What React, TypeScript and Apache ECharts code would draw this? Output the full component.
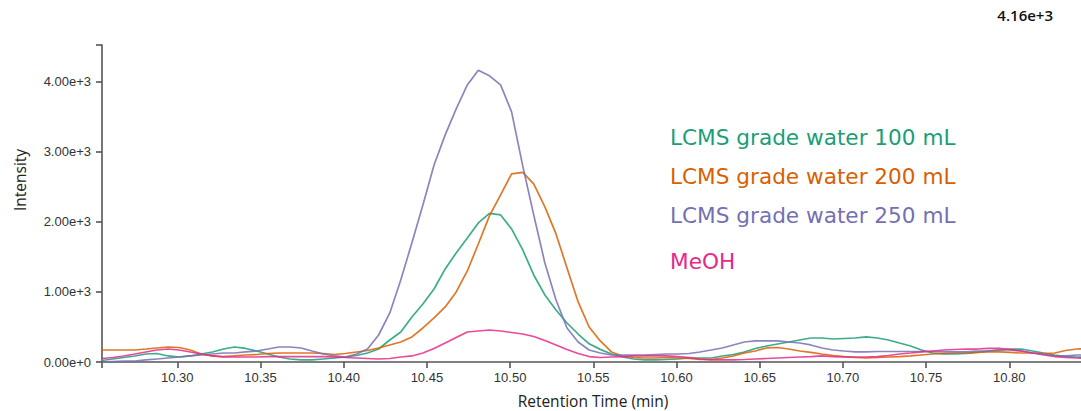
import React, { useEffect, useRef } from "react";
import * as echarts from "echarts";

// Retention times (min) of the sampled scans
const retentionTimes = [
  10.2545, 10.2612, 10.2678, 10.2745, 10.2811, 10.2878, 10.2945, 10.3011, 10.3078, 10.3144,
  10.3211, 10.3278, 10.3344, 10.3411, 10.3477, 10.3544, 10.3611, 10.3677, 10.3744, 10.381,
  10.3877, 10.3944, 10.401, 10.4077, 10.4143, 10.421, 10.4277, 10.4343, 10.441, 10.4476,
  10.4543, 10.461, 10.4676, 10.4743, 10.4809, 10.4876, 10.4943, 10.5009, 10.5076, 10.5142,
  10.5209, 10.5276, 10.5342, 10.5409, 10.5475, 10.5542, 10.5609, 10.5675, 10.5742, 10.5808,
  10.5875, 10.5942, 10.6008, 10.6075, 10.6141, 10.6208, 10.6275, 10.6341, 10.6408, 10.6474,
  10.6541, 10.6608, 10.6674, 10.6741, 10.6807, 10.6874, 10.6941, 10.7007, 10.7074, 10.714,
  10.7207, 10.7274, 10.734, 10.7407, 10.7473, 10.754, 10.7607, 10.7673, 10.774, 10.7806,
  10.7873, 10.794, 10.8006, 10.8073, 10.8139, 10.8206, 10.8273, 10.8339, 10.8406, 10.8472,
];

const water100 = [
  21, 43, 64, 86, 114, 121, 86, 71, 86, 114,
  143, 185, 214, 193, 157, 114, 71, 43, 29, 29,
  43, 57, 71, 93, 128, 185, 314, 428, 642, 827,
  1041, 1327, 1555, 1769, 1983, 2118, 2097, 1897, 1598, 1241,
  956, 742, 556, 399, 260, 180, 114, 71, 43, 29,
  29, 36, 43, 57, 57, 57, 86, 107, 143, 193,
  228, 257, 285, 314, 342, 342, 328, 335, 342, 357,
  342, 314, 271, 228, 171, 128, 114, 114, 121, 136,
  157, 171, 185, 185, 157, 128, 100, 78, 71, 64,
];

const water200 = [
  171, 171, 171, 171, 185, 200, 214, 207, 171, 114,
  86, 78, 86, 100, 107, 121, 128, 128, 128, 128,
  121, 107, 121, 143, 164, 200, 243, 285, 357, 485,
  628, 785, 999, 1298, 1683, 2083, 2382, 2682, 2703, 2539,
  2211, 1826, 1341, 856, 499, 300, 143, 86, 64, 57,
  57, 64, 57, 50, 36, 36, 57, 86, 128, 157,
  200, 207, 185, 157, 136, 114, 93, 78, 64, 57,
  64, 71, 78, 86, 100, 114, 121, 128, 128, 136,
  143, 143, 136, 128, 128, 121, 128, 164, 185, 193,
];

const water250 = [
  0, 7, 14, 14, 29, 43, 57, 71, 86, 100,
  114, 128, 128, 143, 157, 185, 214, 214, 200, 157,
  114, 86, 71, 114, 185, 385, 700, 1170, 1700, 2240,
  2810, 3238, 3609, 3951, 4160, 4080, 3951, 3566, 2796, 2097,
  1412, 884, 485, 285, 171, 128, 100, 100, 100, 100,
  107, 114, 114, 121, 143, 171, 200, 243, 285, 300,
  300, 300, 285, 271, 243, 200, 171, 157, 143, 143,
  150, 150, 150, 150, 150, 150, 143, 143, 143, 157,
  157, 171, 171, 157, 128, 114, 86, 86, 100, 100,
];

const meoh = [
  50, 64, 86, 114, 143, 171, 185, 171, 143, 114,
  86, 71, 71, 71, 71, 78, 78, 78, 78, 78,
  78, 71, 64, 57, 50, 43, 50, 71, 86, 128,
  193, 271, 350, 428, 442, 456, 442, 421, 399, 364,
  307, 243, 178, 121, 78, 64, 71, 78, 86, 86,
  86, 86, 78, 64, 43, 29, 29, 29, 36, 43,
  50, 57, 64, 71, 78, 86, 78, 71, 71, 71,
  78, 93, 114, 128, 143, 157, 171, 178, 185, 185,
  193, 193, 178, 157, 128, 100, 78, 64, 57, 50,
];

const seriesNames = [
  "LCMS grade water 100 mL",
  "LCMS grade water 200 mL",
  "LCMS grade water 250 mL",
  "MeOH",
];
const seriesValues = [water100, water200, water250, meoh];
const seriesColors = ["#1b9e77", "#d95f02", "#7570b3", "#e7298a"];

const xTickValues = [10.3, 10.35, 10.4, 10.45, 10.5, 10.55, 10.6, 10.65, 10.7, 10.75, 10.8];
const yTickValues = [0, 1000, 2000, 3000, 4000];

const X_MIN = 10.25475;
const X_MAX = 10.8431;
const Y_MAX = 4520;

const AXIS_COLOR = "#555";
const LABEL_COLOR = "#333";

export default function App() {
  const ref = useRef<HTMLDivElement>(null);

  useEffect(() => {
    if (!ref.current) return;
    const chart = echarts.init(ref.current, undefined, { renderer: "svg" });

    const maxIntensity = Math.max(...seriesValues.flat());
    const legendY = [138, 177, 216, 262];

    chart.setOption({
      animation: false,
      backgroundColor: "#ffffff",
      grid: { left: 102, right: 0, top: 45, bottom: 49, containLabel: false },
      xAxis: {
        type: "value",
        min: X_MIN,
        max: X_MAX,
        axisLine: { show: true, onZero: false, lineStyle: { color: AXIS_COLOR, width: 1.6 } },
        axisTick: {
          show: true,
          length: 6,
          customValues: [X_MIN, ...xTickValues],
          lineStyle: { color: AXIS_COLOR, width: 1.6 },
        },
        axisLabel: {
          customValues: xTickValues,
          formatter: (v: number) => v.toFixed(2),
          color: LABEL_COLOR,
          fontFamily: "Liberation Sans",
          fontSize: 13,
          margin: 9,
        },
        splitLine: { show: false },
      },
      yAxis: {
        type: "value",
        min: 0,
        max: Y_MAX,
        axisLine: { show: true, lineStyle: { color: AXIS_COLOR, width: 1.6 } },
        axisTick: {
          show: true,
          length: 6,
          customValues: [...yTickValues, Y_MAX],
          lineStyle: { color: AXIS_COLOR, width: 1.6 },
        },
        axisLabel: {
          customValues: yTickValues,
          formatter: (v: number) => v.toExponential(2),
          color: LABEL_COLOR,
          fontFamily: "Liberation Sans",
          fontSize: 13,
          margin: 11,
        },
        splitLine: { show: false },
      },
      series: seriesValues.map((vals, k) => ({
        name: seriesNames[k],
        type: "line",
        data: vals.map((v, i) => [retentionTimes[i], v]),
        showSymbol: false,
        smooth: false,
        clip: true,
        lineStyle: { color: seriesColors[k], width: 1.7, opacity: 0.85 },
        itemStyle: { color: seriesColors[k] },
      })),
      graphic: [
        ...seriesNames.map((name, k) => ({
          type: "text",
          left: 670,
          top: legendY[k] - 12,
          style: {
            text: name,
            fill: seriesColors[k],
            font: "21.6px 'DejaVu Sans'",
          },
        })),
        {
          type: "text",
          right: 28,
          top: 7,
          style: {
            text: maxIntensity.toExponential(2),
            fill: "#111",
            font: "600 15px 'Open Sans'",
          },
        },
        {
          type: "text",
          x: 20,
          y: 180,
          rotation: Math.PI / 2,
          style: {
            text: "Intensity",
            fill: "#222",
            font: "15.5px 'Open Sans'",
            align: "center",
            verticalAlign: "middle",
          },
        },
        {
          type: "text",
          x: 593,
          y: 401,
          style: {
            text: "Retention Time (min)",
            fill: "#222",
            font: "15.5px 'Open Sans'",
            align: "center",
            verticalAlign: "middle",
          },
        },
      ],
    });

    return () => chart.dispose();
  }, []);

  return (
    <div
      ref={ref}
      style={{ position: "fixed", left: 0, top: 0, width: 1081, height: 411, background: "#fff" }}
    />
  );
}
